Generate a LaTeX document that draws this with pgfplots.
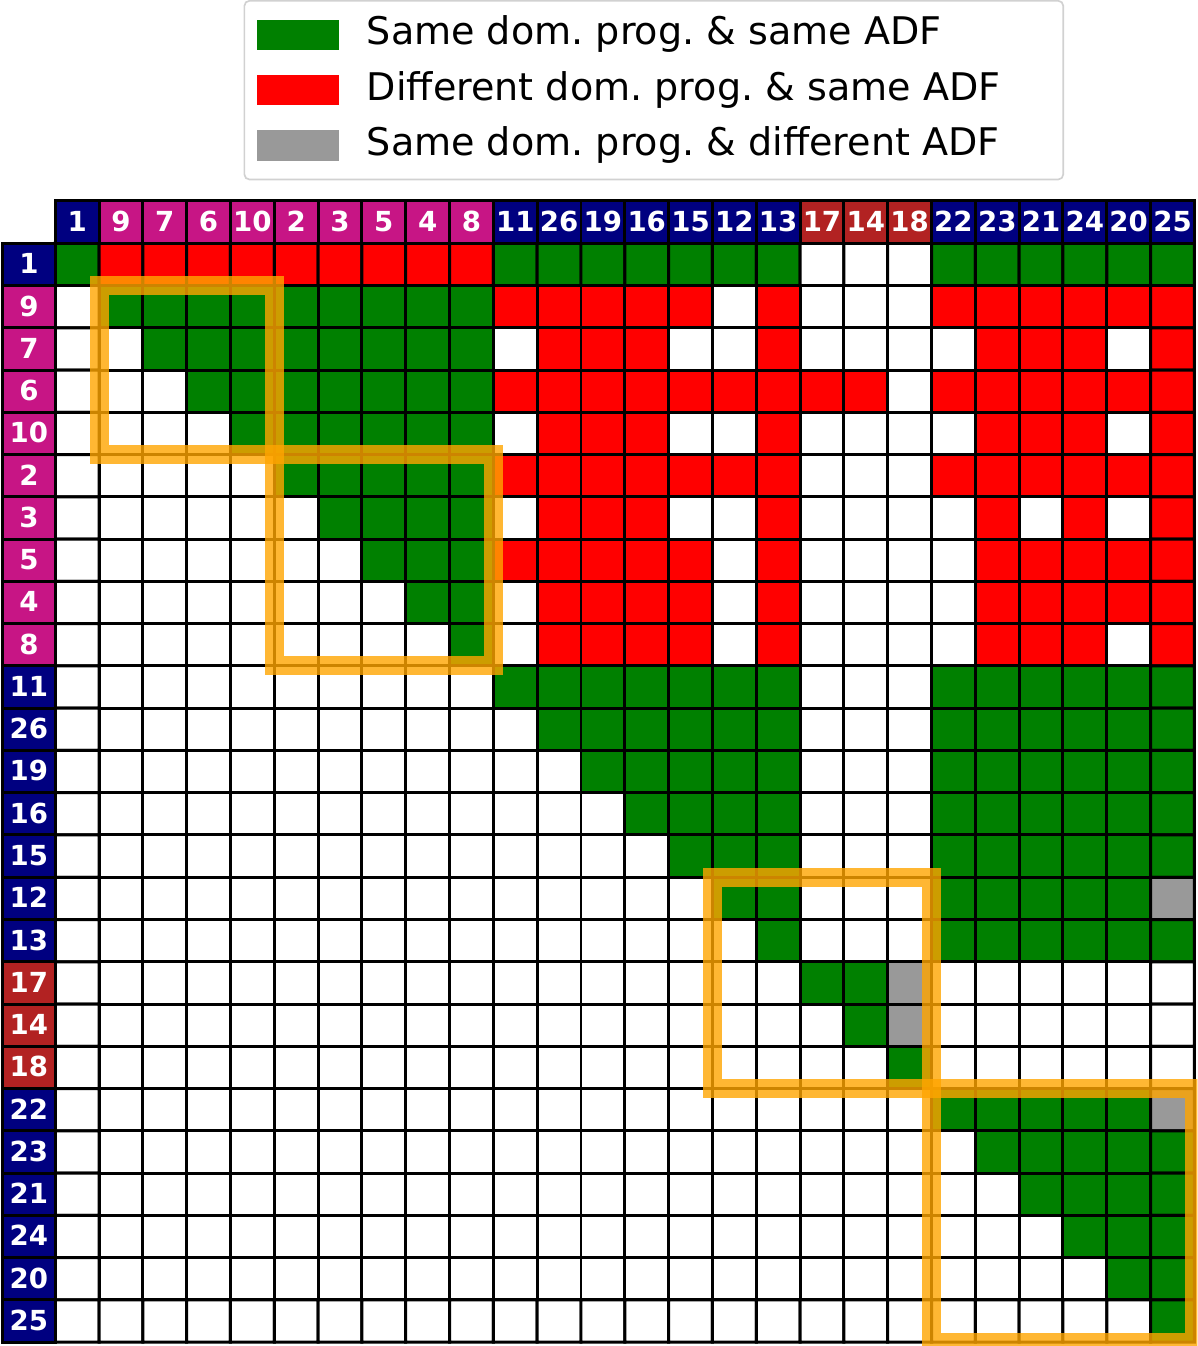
\documentclass[border=0pt]{standalone}
\usepackage{fontspec}
\setmainfont{DejaVu Sans}
\usepackage{pgfplots}
\usepackage{pgfplotstable}
\pgfplotsset{compat=1.18}
\definecolor{cgreen}{RGB}{0,128,0}
\definecolor{cred}{RGB}{255,0,0}
\definecolor{cgrey}{RGB}{153,153,153}
\definecolor{cnavy}{RGB}{0,0,128}
\definecolor{cmag}{RGB}{199,21,133}
\definecolor{cbrick}{RGB}{178,34,34}
\definecolor{corange}{RGB}{255,165,0}

% 0 = white, 1 = same prog./same ADF, 2 = different prog./same ADF, 3 = same prog./different ADF
% one line per matrix row, order 1 9 7 6 10 2 3 5 4 8 11 26 19 16 15 12 13 17 14 18 22 23 21 24 20 25
\pgfplotstableread[row sep=\\]{
c\\
1\\2\\2\\2\\2\\2\\2\\2\\2\\2\\1\\1\\1\\1\\1\\1\\1\\0\\0\\0\\1\\1\\1\\1\\1\\1\\
0\\1\\1\\1\\1\\1\\1\\1\\1\\1\\2\\2\\2\\2\\2\\0\\2\\0\\0\\0\\2\\2\\2\\2\\2\\2\\
0\\0\\1\\1\\1\\1\\1\\1\\1\\1\\0\\2\\2\\2\\0\\0\\2\\0\\0\\0\\0\\2\\2\\2\\0\\2\\
0\\0\\0\\1\\1\\1\\1\\1\\1\\1\\2\\2\\2\\2\\2\\2\\2\\2\\2\\0\\2\\2\\2\\2\\2\\2\\
0\\0\\0\\0\\1\\1\\1\\1\\1\\1\\0\\2\\2\\2\\0\\0\\2\\0\\0\\0\\0\\2\\2\\2\\0\\2\\
0\\0\\0\\0\\0\\1\\1\\1\\1\\1\\2\\2\\2\\2\\2\\2\\2\\0\\0\\0\\2\\2\\2\\2\\2\\2\\
0\\0\\0\\0\\0\\0\\1\\1\\1\\1\\0\\2\\2\\2\\0\\0\\2\\0\\0\\0\\0\\2\\0\\2\\0\\2\\
0\\0\\0\\0\\0\\0\\0\\1\\1\\1\\2\\2\\2\\2\\2\\0\\2\\0\\0\\0\\0\\2\\2\\2\\2\\2\\
0\\0\\0\\0\\0\\0\\0\\0\\1\\1\\0\\2\\2\\2\\2\\0\\2\\0\\0\\0\\0\\2\\2\\2\\2\\2\\
0\\0\\0\\0\\0\\0\\0\\0\\0\\1\\0\\2\\2\\2\\2\\0\\2\\0\\0\\0\\0\\2\\2\\2\\0\\2\\
0\\0\\0\\0\\0\\0\\0\\0\\0\\0\\1\\1\\1\\1\\1\\1\\1\\0\\0\\0\\1\\1\\1\\1\\1\\1\\
0\\0\\0\\0\\0\\0\\0\\0\\0\\0\\0\\1\\1\\1\\1\\1\\1\\0\\0\\0\\1\\1\\1\\1\\1\\1\\
0\\0\\0\\0\\0\\0\\0\\0\\0\\0\\0\\0\\1\\1\\1\\1\\1\\0\\0\\0\\1\\1\\1\\1\\1\\1\\
0\\0\\0\\0\\0\\0\\0\\0\\0\\0\\0\\0\\0\\1\\1\\1\\1\\0\\0\\0\\1\\1\\1\\1\\1\\1\\
0\\0\\0\\0\\0\\0\\0\\0\\0\\0\\0\\0\\0\\0\\1\\1\\1\\0\\0\\0\\1\\1\\1\\1\\1\\1\\
0\\0\\0\\0\\0\\0\\0\\0\\0\\0\\0\\0\\0\\0\\0\\1\\1\\0\\0\\0\\1\\1\\1\\1\\1\\3\\
0\\0\\0\\0\\0\\0\\0\\0\\0\\0\\0\\0\\0\\0\\0\\0\\1\\0\\0\\0\\1\\1\\1\\1\\1\\1\\
0\\0\\0\\0\\0\\0\\0\\0\\0\\0\\0\\0\\0\\0\\0\\0\\0\\1\\1\\3\\0\\0\\0\\0\\0\\0\\
0\\0\\0\\0\\0\\0\\0\\0\\0\\0\\0\\0\\0\\0\\0\\0\\0\\0\\1\\3\\0\\0\\0\\0\\0\\0\\
0\\0\\0\\0\\0\\0\\0\\0\\0\\0\\0\\0\\0\\0\\0\\0\\0\\0\\0\\1\\0\\0\\0\\0\\0\\0\\
0\\0\\0\\0\\0\\0\\0\\0\\0\\0\\0\\0\\0\\0\\0\\0\\0\\0\\0\\0\\1\\1\\1\\1\\1\\3\\
0\\0\\0\\0\\0\\0\\0\\0\\0\\0\\0\\0\\0\\0\\0\\0\\0\\0\\0\\0\\0\\1\\1\\1\\1\\1\\
0\\0\\0\\0\\0\\0\\0\\0\\0\\0\\0\\0\\0\\0\\0\\0\\0\\0\\0\\0\\0\\0\\1\\1\\1\\1\\
0\\0\\0\\0\\0\\0\\0\\0\\0\\0\\0\\0\\0\\0\\0\\0\\0\\0\\0\\0\\0\\0\\0\\1\\1\\1\\
0\\0\\0\\0\\0\\0\\0\\0\\0\\0\\0\\0\\0\\0\\0\\0\\0\\0\\0\\0\\0\\0\\0\\0\\1\\1\\
0\\0\\0\\0\\0\\0\\0\\0\\0\\0\\0\\0\\0\\0\\0\\0\\0\\0\\0\\0\\0\\0\\0\\0\\0\\1\\
}\cells
% cell position: column and row of each entry
\pgfplotstablecreatecol[create col/expr={int(mod(\pgfplotstablerow,26))}]{x}\cells
\pgfplotstablecreatecol[create col/expr={int(floor((\pgfplotstablerow+0.5)/26))}]{y}\cells

\tikzset{lbl/.style={draw=black, line width=0.9pt, inner sep=0pt, text=white,
    font=\bfseries\fontsize{8.3}{8.3}\selectfont}}
% header cell on top and row label on the left: #1 position, #2 colour, #3 text
\newcommand\lab[3]{%
  \node[lbl, fill=#2, minimum width=13.17pt, minimum height=12.705pt] at (axis cs:#1,-1) {\raisebox{0.5pt}{#3}};
  \node[lbl, fill=#2, minimum width=15.8pt, minimum height=12.705pt] at (axis cs:-1.1,#1) {\raisebox{0.5pt}{#3}};}

\begin{document}
\begin{tikzpicture}
\begin{axis}[
    x=13.17pt, y=12.705pt, y dir=reverse,
    xmin=-1.76, xmax=25.57, ymin=-1.54, ymax=25.59,
    axis line style={draw=none}, xtick=\empty, ytick=\empty,
    colormap={cellmap}{rgb255=(255,255,255) rgb255=(0,128,0) rgb255=(255,0,0) rgb255=(153,153,153)},
    colormap access=direct,
    legend cell align=left,
    legend style={at={(0.546,1)}, anchor=south, yshift=5.7pt,
        draw=black!18, line width=0.5pt, rounded corners=1.5pt,
        inner xsep=3.9pt, inner ysep=4.5pt, row sep=5.25pt, column sep=0pt,
        font=\fontsize{11.45}{11.45}\selectfont\frenchspacing,
        nodes={inner xsep=4.5pt, inner ysep=0pt, text height=8.7pt, text depth=2.7pt}},
]
\addplot[matrix plot*, mesh/cols=26, draw=black, line width=0.9pt,
    point meta=explicit, forget plot]
    table[x=x, y=y, meta=c] {\cells};

\addlegendimage{legend image code/.code={\fill[cgreen, sharp corners] (0pt,-4.3pt) rectangle (24pt,4.3pt);}}
\addlegendentry{\hspace*{3.9pt}Same dom. prog. \& same ADF}
\addlegendimage{legend image code/.code={\fill[cred, sharp corners] (0pt,-4.3pt) rectangle (24pt,4.3pt);}}
\addlegendentry{\hspace*{3.9pt}Different dom. prog. \& same ADF\hspace*{10.5pt}}
\addlegendimage{legend image code/.code={\fill[cgrey, sharp corners] (0pt,-4.3pt) rectangle (24pt,4.3pt);}}
\addlegendentry{\hspace*{3.9pt}Same dom. prog. \& different ADF}

\lab{0}{cnavy}{1}
\lab{1}{cmag}{9}
\lab{2}{cmag}{7}
\lab{3}{cmag}{6}
\lab{4}{cmag}{10}
\lab{5}{cmag}{2}
\lab{6}{cmag}{3}
\lab{7}{cmag}{5}
\lab{8}{cmag}{4}
\lab{9}{cmag}{8}
\lab{10}{cnavy}{11}
\lab{11}{cnavy}{26}
\lab{12}{cnavy}{19}
\lab{13}{cnavy}{16}
\lab{14}{cnavy}{15}
\lab{15}{cnavy}{12}
\lab{16}{cnavy}{13}
\lab{17}{cbrick}{17}
\lab{18}{cbrick}{14}
\lab{19}{cbrick}{18}
\lab{20}{cnavy}{22}
\lab{21}{cnavy}{23}
\lab{22}{cnavy}{21}
\lab{23}{cnavy}{24}
\lab{24}{cnavy}{20}
\lab{25}{cnavy}{25}

\draw[corange, draw opacity=0.8, line width=5.7pt] (axis cs:0.5,0.5) rectangle (axis cs:4.5,4.5);
\draw[corange, draw opacity=0.8, line width=5.7pt] (axis cs:4.5,4.5) rectangle (axis cs:9.5,9.5);
\draw[corange, draw opacity=0.8, line width=5.7pt] (axis cs:14.5,14.5) rectangle (axis cs:19.5,19.5);
\draw[corange, draw opacity=0.8, line width=5.7pt] (axis cs:19.5,19.5) rectangle (axis cs:25.5,25.5);
\end{axis}
\end{tikzpicture}
\end{document}
